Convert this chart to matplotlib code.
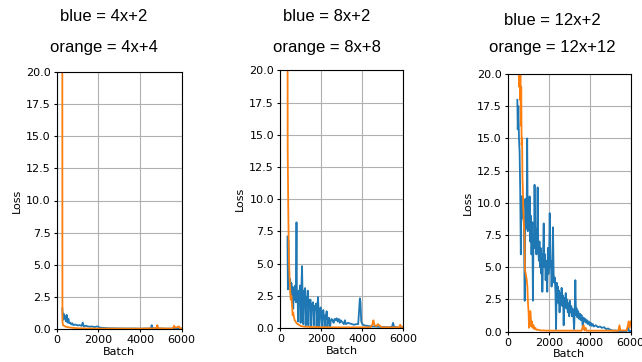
import matplotlib
matplotlib.use('Agg')
import matplotlib.pyplot as plt

# --- Dados (Batch x Loss) ---

# Painel 1: blue = 4x+2 / orange = 4x+4
b1_x = [270, 300, 330, 360, 400, 440, 480, 520, 560, 600, 650, 700, 750, 800, 900,
        1000, 1100, 1200, 1250, 1300, 1400, 1500, 1600, 1700, 1800, 1950, 2100,
        2300, 2500, 2800, 3200, 3600, 4000, 4400, 4520, 4560, 4600, 4800, 4830,
        4860, 5200, 5600, 6000]
b1_y = [1.6, 0.7, 1.2, 0.8, 1.0, 0.6, 1.1, 0.5, 0.8, 0.45, 0.5, 0.35, 0.45, 0.3, 0.35,
        0.28, 0.3, 0.25, 0.5, 0.2, 0.25, 0.2, 0.18, 0.2, 0.15, 0.2, 0.1,
        0.08, 0.06, 0.05, 0.04, 0.04, 0.03, 0.04, 0.05, 0.3, 0.05, 0.05, 0.2,
        0.05, 0.03, 0.03, 0.03]
o1_x = [250, 275, 300, 400, 500, 700, 1000, 1500, 2000, 3000, 4000, 4700, 4800,
        4830, 4870, 5500, 5600, 5630, 5700, 5870, 5920, 6000]
o1_y = [90, 0.6, 0.3, 0.2, 0.15, 0.1, 0.06, 0.04, 0.03, 0.03, 0.03, 0.05, 0.1,
        0.3, 0.05, 0.03, 0.1, 0.25, 0.1, 0.2, 0.05, 0.05]

# Painel 2: blue = 8x+2 / orange = 8x+8
b2_x = [350, 370, 390, 420, 450, 480, 510, 540, 570, 600, 630, 660, 700, 730, 760,
        790, 810, 840, 870, 900, 930, 960, 990, 1020, 1060, 1090, 1120, 1150, 1180,
        1210, 1240, 1270, 1300, 1340, 1370, 1400, 1430, 1470, 1500, 1530, 1560,
        1600, 1630, 1660, 1700, 1740, 1770, 1800, 1840, 1870, 1900, 1930, 1970,
        2000, 2030, 2060, 2100, 2130, 2160, 2200, 2230, 2260, 2300, 2330, 2370,
        2400, 2430, 2470, 2500, 2550, 2600, 2650, 2700, 2750, 2800, 2850, 2900,
        2950, 3000, 3100, 3150, 3200, 3300, 3400, 3500, 3600, 3700, 3800, 3850,
        3880, 3910, 3950, 4000, 4100, 4300, 4500, 4700, 5000, 5300, 5450, 5500,
        5550, 5700, 6000]
b2_y = [7.1, 3.0, 6.8, 4.0, 3.3, 3.8, 2.6, 3.5, 2.4, 3.2, 1.5, 3.0, 2.2, 3.3, 2.0,
        8.2, 2.4, 2.8, 0.5, 2.9, 2.0, 3.3, 0.4, 2.6, 4.8, 2.2, 0.3, 2.9, 2.0,
        3.1, 0.2, 2.4, 1.8, 2.9, 0.2, 2.2, 1.6, 2.2, 0.1, 1.9, 1.4,
        2.0, 0.2, 1.7, 1.4, 1.9, 0.1, 1.5, 2.4, 1.2, 0.1, 1.4, 1.6,
        0.9, 0.1, 1.2, 1.4, 0.8, 0.1, 1.0, 0.7, 1.3, 0.1, 0.7, 0.8,
        0.5, 0.1, 0.6, 0.7, 0.6, 0.4, 0.7, 0.6, 0.75, 0.5, 0.7, 0.4,
        0.6, 0.5, 0.3, 0.6, 0.3, 0.4, 0.35, 0.3, 0.25, 0.3, 0.3, 1.5,
        2.3, 2.0, 0.5, 0.3, 0.2, 0.15, 0.12, 0.1, 0.08, 0.06, 0.1, 0.4,
        0.1, 0.05, 0.05]
o2_x = [330, 360, 390, 420, 450, 480, 510, 540, 570, 600, 630, 660, 700, 750, 800,
        900, 1000, 1200, 1500, 2000, 2500, 3000, 3500, 4000, 4400, 4500, 4540,
        4600, 4700, 4750, 4800, 4900, 5000, 5800, 5850, 5900, 6000]
o2_y = [60, 14, 9, 5.5, 4, 3, 2.2, 2.5, 1.8, 1.0, 1.2, 0.9, 0.6, 0.5, 0.35,
        0.25, 0.15, 0.1, 0.08, 0.06, 0.05, 0.05, 0.05, 0.05, 0.05, 0.3, 0.6,
        0.2, 0.15, 0.3, 0.25, 0.1, 0.05, 0.05, 0.25, 0.1, 0.05]

# Painel 3: blue = 12x+2 / orange = 12x+12
b3_x = [470, 490, 520, 550, 580, 610, 640, 670, 700, 730, 760, 790, 830, 860, 890,
        920, 950, 980, 1010, 1040, 1070, 1100, 1130, 1160, 1200, 1230, 1260, 1290,
        1310, 1340, 1370, 1400, 1430, 1460, 1490, 1520, 1550, 1580, 1610, 1640,
        1670, 1690, 1720, 1756, 1790, 1820, 1850, 1880, 1910, 1930, 1960, 1990,
        2020, 2050, 2080, 2110, 2140, 2170, 2210, 2240, 2270, 2300, 2330, 2360,
        2390, 2420, 2450, 2480, 2500, 2530, 2560, 2600, 2630, 2660, 2700, 2730,
        2760, 2800, 2830, 2860, 2900, 2930, 2960, 3000, 3030, 3060, 3100, 3130,
        3160, 3200, 3240, 3270, 3300, 3330, 3360, 3400, 3440, 3480, 3520, 3560,
        3600, 3640, 3670, 3700, 3740, 3780, 3820, 3860, 3900, 3950, 4000, 4050,
        4100, 4150, 4200, 4300, 4400, 4500, 4600, 4700, 4800, 4900, 5000, 5100,
        5300, 5500, 5800, 5880, 5920, 6000]
b3_y = [18.0, 15.7, 17.5, 15.0, 14.0, 11.0, 6.0, 10.5, 8.8, 10.5, 9.0, 8.5, 2.4, 10.3, 9.0,
        8.0, 15.0, 7.8, 9.5, 8.0, 10.5, 7.0, 9.0, 6.0, 8.5, 2.4, 7.5, 6.5,
        11.4, 6.5, 8.0, 6.0, 7.5, 11.2, 6.5, 5.5, 7.0, 5.0, 6.5, 4.5,
        6.0, 3.1, 5.5, 8.4, 5.0, 6.0, 4.0, 5.5, 4.5, 3.1, 6.5, 4.5,
        5.5, 9.2, 5.0, 5.5, 3.5, 5.0, 8.1, 4.5, 3.8, 4.2, 3.0, 0.2,
        3.8, 2.8, 3.5, 2.2, 3.2, 1.5, 3.0, 2.2, 3.4, 2.0, 2.8, 0.5,
        2.6, 2.0, 3.0, 1.8, 2.5, 1.5, 2.2, 1.2, 2.4, 1.5, 2.0, 1.2,
        1.8, 1.4, 0.2, 1.6, 4.0, 1.3, 1.8, 1.1, 1.6, 1.0, 1.4, 0.9,
        1.3, 0.8, 0.2, 1.1, 0.8, 1.0, 0.7, 0.9, 0.6, 0.8, 0.5, 0.7,
        0.45, 0.6, 0.4, 0.5, 0.35, 0.4, 0.3, 0.35, 0.2, 0.25, 0.15, 0.1,
        0.08, 0.05, 0.05, 0.3, 0.05, 0.05]
o3_x = [500, 540, 560, 580, 600, 620, 640, 660, 680, 700, 720, 740, 760, 790, 820,
        840, 870, 900, 930, 960, 990, 1020, 1040, 1060, 1080, 1100, 1120, 1150,
        1180, 1220, 1260, 1300, 1350, 1400, 1500, 1600, 2000, 3000, 3600, 3650,
        3700, 3750, 3800, 3850, 4500, 5400, 5450, 5500, 5800, 5850, 5900, 5950, 6000]
o3_y = [60, 24, 19, 25, 18, 22, 16, 19, 14.5, 15, 12, 11, 9.5, 8.3, 7.5,
        4.8, 4.6, 4.3, 4.0, 3.5, 2.2, 1.5, 0.3, 1.0, 0.5, 1.6, 1.3, 0.4,
        0.8, 0.3, 0.5, 0.2, 0.3, 0.15, 0.15, 0.1, 0.08, 0.08, 0.08, 0.3,
        0.5, 0.1, 0.3, 0.08, 0.08, 0.08, 0.5, 0.1, 0.1, 0.4, 0.8, 0.3, 0.8]

titulos = [('blue = 4x+2', 'orange = 4x+4'),
           ('blue = 8x+2', 'orange = 8x+8'),
           ('blue = 12x+2', 'orange = 12x+12')]

series = [(b1_x, b1_y, o1_x, o1_y),
          (b2_x, b2_y, o2_x, o2_y),
          (b3_x, b3_y, o3_x, o3_y)]

# posições dos eixos em pixels (esquerda, topo, direita, base) e das linhas de título
W, H = 642, 362
caixas = [(56.7, 72, 181.7, 329), (280.3, 70.3, 403.3, 328), (507.7, 74, 630.7, 331.7)]
centros_titulo = [104, 327, 552]
base_titulo1 = [21, 21, 25]
base_titulo2 = [52, 52, 52]

fig = plt.figure(figsize=(W / 100, H / 100), dpi=100)

for i in range(3):
    esq, topo, dir_, base = caixas[i]
    ax = fig.add_axes([esq / W, 1 - base / H, (dir_ - esq) / W, (base - topo) / H])
    bx, by, ox, oy = series[i]
    ax.plot(bx, by, color='#1f77b4', linewidth=1.3)
    ax.plot(ox, oy, color='#ff7f0e', linewidth=1.3)
    ax.set_xlim(0, 6000)
    ax.set_ylim(0, 20)
    ax.set_xticks([0, 2000, 4000, 6000])
    ax.set_yticks([0, 2.5, 5, 7.5, 10, 12.5, 15, 17.5, 20])
    ax.yaxis.set_major_formatter(matplotlib.ticker.FormatStrFormatter('%.1f'))
    ax.tick_params(labelsize=8, length=2.5, pad=2)
    ax.set_xlabel('Batch', fontsize=8, labelpad=1)
    ax.set_ylabel('Loss', fontsize=8, labelpad=3)
    ax.grid(True, color='#b0b0b0', linewidth=0.8)

    fig.text(centros_titulo[i] / W, 1 - base_titulo1[i] / H, titulos[i][0],
             ha='center', va='baseline', fontsize=12, family='Liberation Sans')
    fig.text(centros_titulo[i] / W, 1 - base_titulo2[i] / H, titulos[i][1],
             ha='center', va='baseline', fontsize=12, family='Liberation Sans')

plt.savefig('out.png', dpi=100)
plt.close()
